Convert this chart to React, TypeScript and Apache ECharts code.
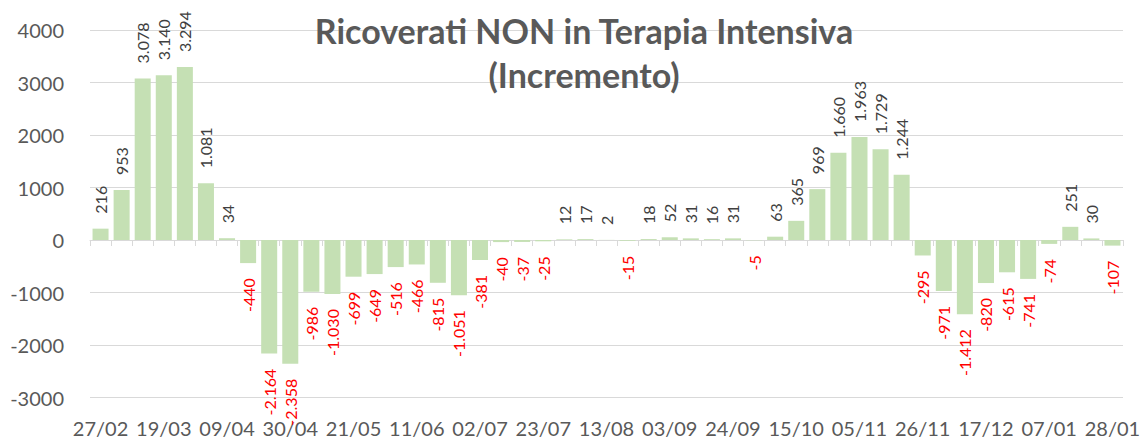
import React, { useEffect, useRef } from "react";
import * as echarts from "echarts";

const categories: string[] = [
  "27/02", "05/03", "12/03", "19/03", "26/03", "02/04", "09/04", "16/04", "23/04", "30/04",
  "07/05", "14/05", "21/05", "28/05", "04/06", "11/06", "18/06", "25/06", "02/07", "09/07",
  "16/07", "23/07", "30/07", "06/08", "13/08", "20/08", "27/08", "03/09", "10/09", "17/09",
  "24/09", "01/10", "08/10", "15/10", "22/10", "29/10", "05/11", "12/11", "19/11", "26/11",
  "03/12", "10/12", "17/12", "24/12", "31/12", "07/01", "14/01", "21/01", "28/01",
];

const values: number[] = [
  216, 953, 3078, 3140, 3294, 1081, 34, -440, -2164, -2358,
  -986, -1030, -699, -649, -516, -466, -815, -1051, -381, -40,
  -37, -25, 12, 17, 2, -15, 18, 52, 31, 16,
  31, -5, 63, 365, 969, 1660, 1963, 1729, 1244, -295,
  -971, -1412, -820, -615, -741, -74, 251, 30, -107,
];

const titleLines: string[] = ["Ricoverati NON in Terapia Intensiva", "(Incremento)"];

const fmt = (v: number): string => {
  const s = Math.abs(v).toString().replace(/\B(?=(\d{3})+(?!\d))/g, ".");
  return (v < 0 ? "-" : "") + s;
};

const FONT = "Lato, 'Open Sans', sans-serif";

export default function App() {
  const ref = useRef<HTMLDivElement>(null);
  useEffect(() => {
    if (!ref.current) return;
    const chart = echarts.init(ref.current, undefined, { renderer: "svg" });
    const data = values.map((v) => ({
      value: v,
      label:
        v >= 0
          ? {
              show: true,
              position: "top",
              rotate: 90,
              align: "left",
              verticalAlign: "middle",
              distance: 15,
              color: "#404040",
              fontSize: 16,
              fontFamily: FONT,
              formatter: () => fmt(v),
            }
          : {
              show: true,
              position: "bottom",
              rotate: 90,
              align: "right",
              verticalAlign: "middle",
              distance: 15,
              color: "#ff0000",
              fontSize: 16,
              fontFamily: FONT,
              formatter: () => fmt(v),
            },
    }));
    chart.setOption({
      animation: false,
      backgroundColor: "#ffffff",
      textStyle: { fontFamily: FONT },
      grid: { left: 90, right: 25, top: 30, bottom: 42.5, containLabel: false },
      graphic: [
        {
          type: "text",
          x: 584,
          y: 8,
          style: {
            text: titleLines.join("\n"),
            textAlign: "center",
            fill: "#595959",
            fontSize: 34,
            fontWeight: "bold",
            fontFamily: FONT,
            lineHeight: 44,
          },
          z: 10,
        },
      ],
      xAxis: [
        {
          type: "category",
          data: categories,
          position: "bottom",
          axisLine: { show: false, onZero: false },
          axisTick: { show: false },
          axisLabel: {
            interval: 2,
            color: "#595959",
            fontSize: 20,
            fontFamily: FONT,
            margin: 20,
          },
          splitLine: { show: false },
        },
        {
          type: "category",
          data: categories,
          position: "top",
          axisLine: { show: true, onZero: true, lineStyle: { color: "#d9d9d9", width: 1 } },
          axisTick: {
            show: true,
            inside: true,
            interval: 0,
            length: 6,
            lineStyle: { color: "#d9d9d9", width: 1 },
          },
          axisLabel: { show: false },
          splitLine: { show: false },
        },
      ],
      yAxis: {
        type: "value",
        min: -3000,
        max: 4000,
        interval: 1000,
        axisLine: { show: false },
        axisTick: { show: false },
        axisLabel: {
          color: "#595959",
          fontSize: 20,
          fontFamily: FONT,
          margin: 26,
          formatter: (v: number) => String(v),
        },
        splitLine: { lineStyle: { color: "#d9d9d9", width: 1 } },
      },
      series: [
        {
          type: "bar",
          xAxisIndex: 0,
          data,
          barCategoryGap: "24%",
          itemStyle: { color: "#c5e0b4" },
        },
      ],
    });
    return () => chart.dispose();
  }, []);
  return (
    <div
      ref={ref}
      style={{ position: "fixed", left: 0, top: 0, width: 1148, height: 440 }}
    />
  );
}
